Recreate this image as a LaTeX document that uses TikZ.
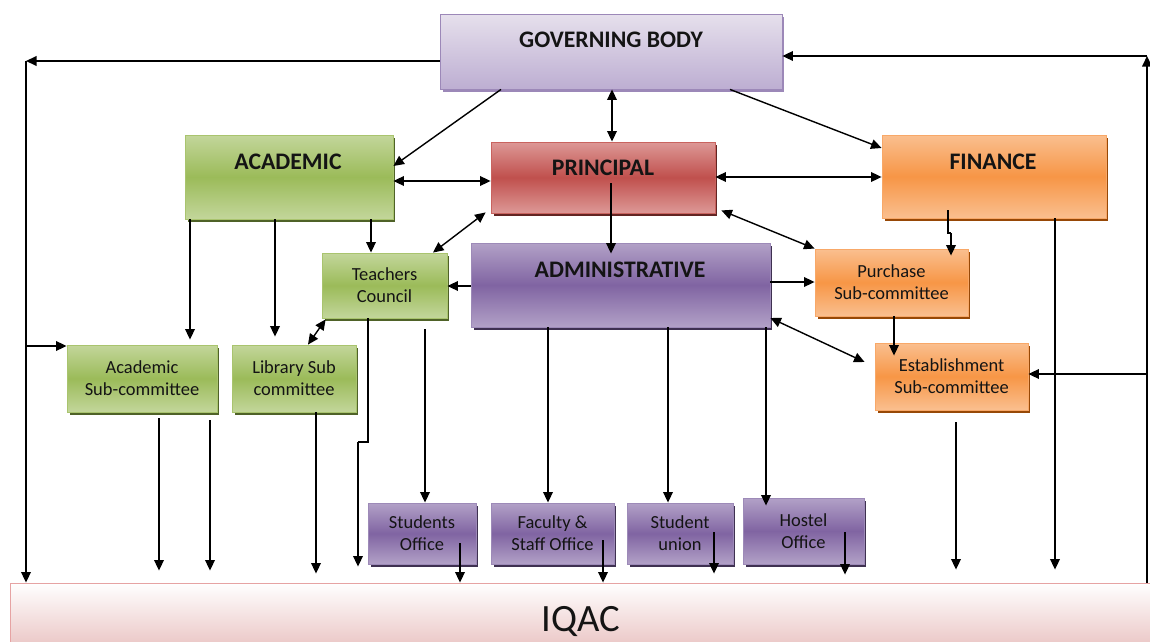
\documentclass[tikz,border=0pt]{standalone}
\usepackage{fontspec}
\setmainfont{Carlito}
\usetikzlibrary{arrows.meta,shadows,calc}
\definecolor{gA}{HTML}{C3D69B}\definecolor{gB}{HTML}{9BBB59}\definecolor{gS}{HTML}{4F6228}\definecolor{gD}{HTML}{A9C46E}
\definecolor{rA}{HTML}{DD9896}\definecolor{rB}{HTML}{C0504D}\definecolor{rS}{HTML}{632523}\definecolor{rD}{HTML}{C9635F}
\definecolor{oA}{HTML}{FABF8F}\definecolor{oB}{HTML}{F79646}\definecolor{oS}{HTML}{974806}\definecolor{oD}{HTML}{F8A868}
\definecolor{pA}{HTML}{B2A1C7}\definecolor{pB}{HTML}{8064A2}\definecolor{pS}{HTML}{3F3151}\definecolor{pD}{HTML}{9D8AB8}
\definecolor{lA}{HTML}{E6E0EC}\definecolor{lB}{HTML}{BDAED2}\definecolor{lS}{HTML}{9C88B8}
\definecolor{qA}{HTML}{FFFFFF}\definecolor{qB}{HTML}{E6B9B8}\definecolor{qD}{HTML}{E6A3A3}
\definecolor{txt}{HTML}{141414}
\begin{document}
\begin{tikzpicture}[x=0.02cm,y=-0.02cm,
  box/.style={draw, line width=0.5pt, inner sep=0pt, align=center, text=txt,
    font=\fontsize{10.5}{12.6}\selectfont},
  greenbox/.style={box, draw=gD, top color=gA, bottom color=gA, middle color=gB,
    drop shadow={shadow xshift=0.05cm, shadow yshift=-0.06cm, fill=gS, opacity=1}},
  redbox/.style={box, draw=rD, top color=rA, bottom color=rA, middle color=rB,
    drop shadow={shadow xshift=0.05cm, shadow yshift=-0.06cm, fill=rS, opacity=1}},
  orangebox/.style={box, draw=oD, top color=oA, bottom color=oA, middle color=oB,
    drop shadow={shadow xshift=0.05cm, shadow yshift=-0.06cm, fill=oS, opacity=1}},
  purplebox/.style={box, draw=pD, top color=pA, bottom color=pA, middle color=pB,
    drop shadow={shadow xshift=0.05cm, shadow yshift=-0.06cm, fill=pS, opacity=1}},
  gbbox/.style={box, draw=lS, top color=lA, bottom color=lB,
    drop shadow={shadow xshift=0.05cm, shadow yshift=-0.06cm, fill=lS, opacity=1}},
  head/.style={inner sep=0pt, text=txt, font=\fontsize{13.5}{16}\selectfont\bfseries},
  arr/.style={-{Triangle[length=6pt,width=5.5pt]}, line width=0.8pt},
  darr/.style={{Triangle[length=6pt,width=5.5pt]}-{Triangle[length=6pt,width=5.5pt]}, line width=0.8pt},
  ln/.style={line width=0.8pt}
]
\useasboundingbox (0,0) rectangle (1150,642);
% IQAC
\node[box, draw=qD, top color=qA, bottom color=qB, minimum width=22.84cm, minimum height=1.56cm,
  font=\fontsize{22}{26}\selectfont] (iqac) at (581,622) {IQAC};
% main boxes
\node[gbbox, minimum width=6.84cm, minimum height=1.5cm] (gb) at (611,51.5) {};
\node[head] (gbt) at (611,40) {GOVERNING BODY};
\node[greenbox, minimum width=4.16cm, minimum height=1.68cm] (acad) at (289,177) {};
\node[head] (acadt) at (288,162) {ACADEMIC};
\node[redbox, minimum width=4.48cm, minimum height=1.42cm] (prin) at (603,177.5) {};
\node[head] (print) at (603,168) {PRINCIPAL};
\node[orangebox, minimum width=4.48cm, minimum height=1.66cm] (fin) at (994,176.5) {};
\node[head] (fint) at (993,162) {FINANCE};
\node[purplebox, minimum width=5.98cm, minimum height=1.68cm] (adm) at (620.5,285) {};
\node[head] (admt) at (620,270) {ADMINISTRATIVE};
% small boxes
\node[greenbox, minimum width=2.5cm, minimum height=1.3cm] (tc) at (384.5,285.5) {Teachers\\Council};
\node[orangebox, minimum width=3.06cm, minimum height=1.34cm] (pur) at (891.5,282.5) {Purchase\\Sub-committee};
\node[orangebox, minimum width=3.06cm, minimum height=1.34cm] (est) at (951.5,376.5) {Establishment\\Sub-committee};
\node[greenbox, minimum width=3.0cm, minimum height=1.34cm] (asub) at (142,378.5) {Academic\\Sub-committee};
\node[greenbox, minimum width=2.48cm, minimum height=1.34cm] (lib) at (294,378.5) {Library Sub\\committee};
\node[purplebox, minimum width=2.16cm, minimum height=1.22cm] (so) at (422,533.5) {Students\\Office};
\node[purplebox, minimum width=2.46cm, minimum height=1.22cm] (fso) at (552.5,533.5) {Faculty \&\\Staff Office};
\node[purplebox, minimum width=2.12cm, minimum height=1.22cm] (su) at (680,533.5) {Student\\union};
\node[purplebox, minimum width=2.42cm, minimum height=1.32cm] (ho) at (803.5,531) {Hostel\\Office};
% helper coordinates
\coordinate (cl) at (26,61);
\coordinate (cla) at (26,346);
\coordinate (cr) at (1147,56);
\coordinate (cre) at (1147,374);
\coordinate (ctc) at (368,442);
\coordinate (ctc2) at (358,442);
\coordinate (cso) at (425,329);
% left loop
\draw[arr] (gb.west |- cl) -- (cl);
\draw[arr] (cl) -- (iqac.north -| cl);
\draw[arr] (cla) -- (asub.west |- cla);
% right loop
\draw[arr] (iqac.north -| cr) -- (cr);
\draw[arr] (cr) -- (gb.east |- cr);
\draw[arr] (cre) -- (est.east |- cre);
% governing body
\draw[arr] (gb.south -| 501,0) -- (acad.east |- 0,166);
\draw[darr] (gb.south -| 612,0) -- (prin.north -| 612,0);
\draw[arr] (gb.south -| 730,0) -- (fin.west |- 0,148);
% principal
\draw[darr] (acad.east |- 0,181) -- (prin.west |- 0,181);
\draw[darr] (prin.east |- 0,177) -- (fin.west |- 0,177);
\draw[arr] ($(prin.south -| 611,0)+(0,-30)$) -- ($(adm.north -| 611,0)+(0,11)$);
\draw[darr] ($(prin.south west)+(-5,-1)$) -- (tc.north -| 433,0);
\draw[darr] ($(prin.south east)+(6,-3)$) -- (pur.north west);
% academic
\draw[arr] (acad.south -| 371,0) -- (tc.north -| 371,0);
\draw[arr] (acad.south -| 190,0) -- ($(asub.north -| 190,0)+(0,-5)$);
\draw[arr] (acad.south -| 275,0) -- ($(lib.north -| 275,0)+(0,-8)$);
\draw[arr] (adm.west |- 0,286) -- (tc.east |- 0,286);
\draw[darr] ($(tc.south west)+(4,1)$) -- (lib.north -| 308,0);
% administrative / finance
\draw[arr] (adm.east |- 0,282) -- (pur.west |- 0,282);
\draw[ln] (fin.south -| 948,0) ++(0,-8) -- (948,233) -- (951,233);
\draw[arr] (951,233) -- ($(pur.north -| 951,0)+(0,7)$);
\draw[darr] (adm.east |- 0,318) -- ($(est.west |- 0,362)+(-10,0)$);
\draw[arr] (pur.south -| 894,0) -- ($(est.north -| 894,0)+(0,13)$);
% down to IQAC
\draw[arr] ($(asub.south -| 159,0)+(0,6)$) -- ($(iqac.north -| 159,0)+(0,-12)$);
\draw[arr] ($(asub.south -| 210,0)+(0,8)$) -- ($(iqac.north -| 210,0)+(0,-12)$);
\draw[arr] (lib.south -| 316,0) -- ($(iqac.north -| 316,0)+(0,-9)$);
\draw[ln] (tc.south -| ctc) -- (ctc) -- (ctc2);
\draw[arr] (ctc2) -- ($(iqac.north -| ctc2)+(0,-16)$);
\draw[arr] (cso) -- (so.north -| cso);
\draw[arr] (adm.south -| 548,0) -- (fso.north -| 548,0);
\draw[arr] (adm.south -| 668,0) -- (su.north -| 668,0);
\draw[arr] (adm.south -| 766,0) -- ($(ho.north -| 766,0)+(0,8)$);
\draw[arr] ($(so.south -| 460,0)+(0,-21)$) -- (iqac.north -| 460,0);
\draw[arr] ($(fso.south -| 603,0)+(0,-24)$) -- (iqac.north -| 603,0);
\draw[arr] ($(su.south -| 714,0)+(0,-32)$) -- ($(iqac.north -| 714,0)+(0,-9)$);
\draw[arr] ($(ho.south -| 845,0)+(0,-32)$) -- ($(iqac.north -| 845,0)+(0,-8)$);
\draw[arr] ($(est.south -| 956,0)+(0,12)$) -- ($(iqac.north -| 956,0)+(0,-13)$);
\draw[arr] (fin.south -| 1055,0) -- ($(iqac.north -| 1055,0)+(0,-13)$);
\end{tikzpicture}
\end{document}
